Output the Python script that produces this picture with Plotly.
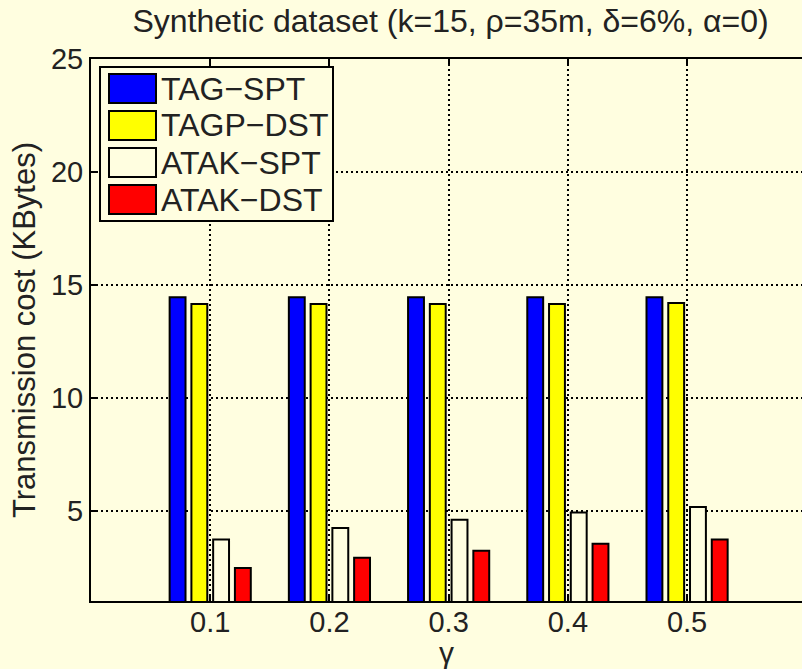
import plotly.graph_objects as go

# ---- data ----
gamma = [0.1, 0.2, 0.3, 0.4, 0.5]
tag_spt = [14.45, 14.45, 14.45, 14.45, 14.45]
tagp_dst = [14.15, 14.15, 14.15, 14.15, 14.2]
atak_spt = [3.72, 4.23, 4.60, 4.92, 5.16]
atak_dst = [2.46, 2.91, 3.23, 3.54, 3.72]
series_names = ["TAG−SPT", "TAGP−DST", "ATAK−SPT", "ATAK−DST"]
y_ticks = [5, 10, 15, 20, 25]
x_tick_labels = ["0.1", "0.2", "0.3", "0.4", "0.5"]

BG = "#FFFEE0"
colors = ["#0000FF", "#FFFF00", BG, "#FF0000"]
FONT = "Liberation Sans, Arial, Helvetica, sans-serif"

W, H = 802, 669
ML, MR, MT, MB = 91, 0, 59, 68
PW, PH = W - ML - MR, H - MT - MB

fig = go.Figure()
for name, vals, col in zip(series_names, [tag_spt, tagp_dst, atak_spt, atak_dst], colors):
    fig.add_trace(go.Bar(
        x=gamma, y=vals, name=name,
        marker=dict(color=col, line=dict(color="black", width=2)),
        showlegend=False,
    ))

def px_x(p):
    return (p - ML) / PW

def px_y(p):
    return (H - MB - p) / PH

shapes = []
annotations = []
# legend frame
shapes.append(dict(type="rect", xref="paper", yref="paper",
                   x0=px_x(100), x1=px_x(333), y0=px_y(221), y1=px_y(67),
                   fillcolor=BG, line=dict(color="black", width=2), layer="above"))
row_tops = [74, 111, 148, 185]
for name, col, top in zip(series_names, colors, row_tops):
    shapes.append(dict(type="rect", xref="paper", yref="paper",
                       x0=px_x(109), x1=px_x(156), y0=px_y(top + 29), y1=px_y(top),
                       fillcolor=col, line=dict(color="black", width=2), layer="above"))
    annotations.append(dict(xref="paper", yref="paper", x=px_x(159), y=px_y(top + 14.5),
                            text=name, showarrow=False, xanchor="left", yanchor="middle",
                            font=dict(family=FONT, size=32, color="#222222")))

fig.update_layout(
    width=W, height=H,
    margin=dict(l=ML, r=MR, t=MT, b=MB, autoexpand=False),
    paper_bgcolor=BG, plot_bgcolor=BG,
    barmode="group", bargap=0.27, bargroupgap=0.27,
    font=dict(family=FONT, size=29, color="#222222"),
    title=dict(text="Synthetic dataset (k=15, ρ=35m, δ=6%, α=0)",
               x=(ML + PW / 2 + 4) / W, xanchor="center", xref="container",
               y=1 - 21 / H, yanchor="middle", yref="container",
               font=dict(family=FONT, size=32, color="#222222")),
    shapes=shapes, annotations=annotations,
    showlegend=False,
)
fig.update_xaxes(
    range=[0, 0.5964], tickvals=gamma, ticktext=x_tick_labels,
    ticks="inside", ticklen=7, tickwidth=2, tickcolor="black",
    showline=True, linecolor="black", linewidth=2, mirror="ticks",
    showgrid=True, gridcolor="black", gridwidth=1.5, griddash="2px,3px",
    zeroline=False, ticklabelstandoff=-6,
    title=dict(text="γ", font=dict(family=FONT, size=30), standoff=12),
    tickfont=dict(size=29),
)
fig.update_yaxes(
    range=[1, 25], tickvals=y_ticks,
    ticks="inside", ticklen=7, tickwidth=2, tickcolor="black",
    showline=True, linecolor="black", linewidth=2, mirror=False,
    showgrid=True, gridcolor="black", gridwidth=1.5, griddash="2px,3px",
    zeroline=False,
    title=dict(text="Transmission cost (KBytes)", font=dict(family=FONT, size=31), standoff=6),
    tickfont=dict(size=29),
)

fig.write_html(
    "out.html",
    config={"displayModeBar": False},
    post_script="document.body.style.margin='0px';document.body.style.padding='0px';"
                "document.body.style.overflow='hidden';",
)
